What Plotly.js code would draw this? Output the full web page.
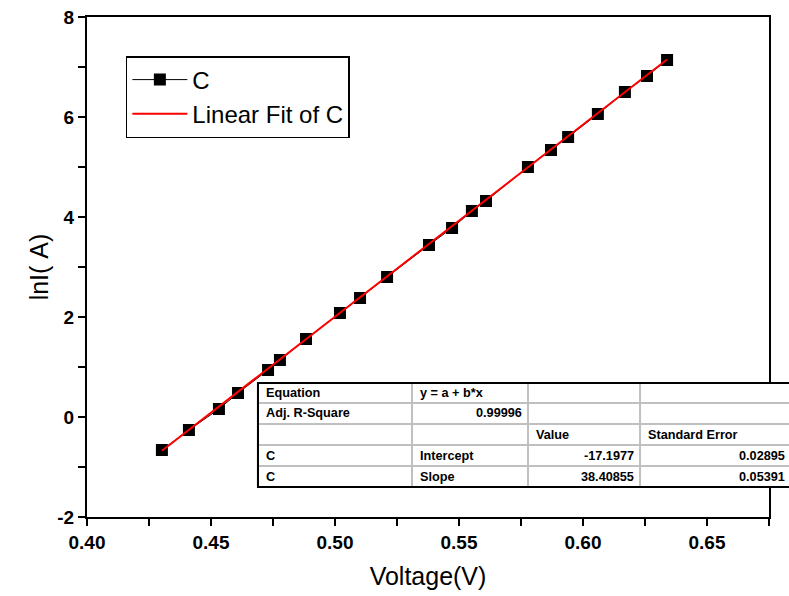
<!DOCTYPE html>
<html>
<head>
<meta charset="utf-8">
<script src="https://cdn.plot.ly/plotly-3.0.1.min.js"></script>
<style>html,body{margin:0;padding:0;background:#fff;}#chart{width:789px;height:596px;}</style>
</head>
<body>
<div id="chart"></div>
<script>
// Data
const voltage = [0.4302,0.4411,0.4532,0.4609,0.4730,0.4778,0.4883,0.5020,0.5101,0.5210,0.5379,0.5472,0.5552,0.5609,0.5778,0.5871,0.5940,0.6060,0.6169,0.6258,0.6339];
const lnI     = [-0.66,-0.26,0.16,0.48,0.94,1.14,1.56,2.08,2.38,2.80,3.44,3.78,4.12,4.32,5.00,5.34,5.60,6.06,6.50,6.82,7.14];
const fitX = [0.4302, 0.6339];
const fitY = [-0.675, 7.149];

// Tick labels
const xTickVals = [0.40, 0.45, 0.50, 0.55, 0.60, 0.65];
const xTickText = ["0.40","0.45","0.50","0.55","0.60","0.65"];
const yTickVals = [-2, 0, 2, 4, 6, 8];
const yTickText = ["-2","0","2","4","6","8"];

// Fit result table (text)
const tableCol1 = ["Equation","Adj. R-Square","","C","C"];
const tableCol2 = ["y = a + b*x","0.99996","","Intercept","Slope"];
const tableCol3 = ["","","Value","-17.1977","38.40855"];
const tableCol4 = ["","","Standard Error","0.02895","0.05391"];

const FONT = "Liberation Sans, Arial, sans-serif";

const traces = [
  {x: voltage, y: lnI, name: "C", type: "scatter", mode: "lines+markers",
   line: {color: "#000", width: 1}, marker: {symbol: "square", size: 12, color: "#000"}},
  {x: fitX, y: fitY, name: "Linear Fit of C", type: "scatter", mode: "lines",
   line: {color: "#ff0000", width: 2}}
];

// table geometry (paper coords)
const colEdges = [0.2507, 0.4765, 0.6466, 0.8109, 1.04];
const rowEdges = [0.268, 0.228, 0.186, 0.144, 0.102, 0.060];
const shapes = [];
const annotations = [];
shapes.push({type:"rect", xref:"paper", yref:"paper", x0:colEdges[0], x1:colEdges[4], y0:rowEdges[5], y1:rowEdges[0],
  fillcolor:"#fff", line:{color:"#000", width:2}, layer:"above"});
for (let i = 1; i < rowEdges.length - 1; i++) {
  shapes.push({type:"line", xref:"paper", yref:"paper", x0:colEdges[0], x1:colEdges[4], y0:rowEdges[i], y1:rowEdges[i],
    line:{color:"#c0c0c0", width:2}, layer:"above"});
}
for (let j = 1; j < colEdges.length - 1; j++) {
  shapes.push({type:"line", xref:"paper", yref:"paper", x0:colEdges[j], x1:colEdges[j], y0:rowEdges[5], y1:rowEdges[0],
    line:{color:"#c0c0c0", width:2}, layer:"above"});
}
shapes.push({type:"rect", xref:"paper", yref:"paper", x0:colEdges[0], x1:colEdges[4], y0:rowEdges[5], y1:rowEdges[0],
  fillcolor:"rgba(0,0,0,0)", line:{color:"#000", width:2}, layer:"above"});

const cols = [tableCol1, tableCol2, tableCol3, tableCol4];
const rightAligned = {"0.99996":1,"-17.1977":1,"38.40855":1,"0.02895":1,"0.05391":1};
cols.forEach((col, j) => {
  col.forEach((txt, i) => {
    if (!txt) return;
    const yc = (rowEdges[i] + rowEdges[i+1]) / 2;
    const right = rightAligned[txt];
    let xpos = right ? colEdges[j+1] - 0.006 : colEdges[j] + 0.009;
    if (j === 3 && right) xpos = 1.0293 - 0.003;
    annotations.push({xref:"paper", yref:"paper", x: xpos, y: yc, text: txt, showarrow:false,
      xanchor: right ? "right" : "left", yanchor:"middle",
      font:{family: FONT, size: 12.7, color:"#000", weight: "bold"}});
  });
});

const layout = {
  width: 789, height: 596,
  margin: {l: 87, r: 20, t: 17, b: 79},
  paper_bgcolor: "#fff", plot_bgcolor: "#fff",
  showlegend: true,
  legend: {x: 0.057, y: 0.922, xanchor: "left", yanchor: "top",
    bordercolor: "#000", borderwidth: 1.5, bgcolor: "#fff",
    font: {family: FONT, size: 24, color: "#000"}, itemwidth: 55,
    tracegroupgap: 0},
  xaxis: {range: [0.40, 0.675], tickmode: "array", tickvals: xTickVals, ticktext: xTickText,
    ticks: "outside", ticklen: 7, tickwidth: 2, tickcolor: "#000",
    minor: {dtick: 0.025, tick0: 0.40, ticks: "outside", ticklen: 7, tickwidth: 2, tickcolor: "#000"},
    showline: true, linecolor: "#000", linewidth: 2, mirror: true,
    showgrid: false, zeroline: false,
    tickfont: {family: FONT, size: 19, color: "#000", weight: "bold"},
    title: {text: "Voltage(V)", font: {family: FONT, size: 25, color: "#000"}, standoff: 16}},
  yaxis: {range: [-2, 8], tickmode: "array", tickvals: yTickVals, ticktext: yTickText,
    ticks: "outside", ticklen: 7, tickwidth: 2, tickcolor: "#000",
    minor: {dtick: 1, tick0: -2, ticks: "outside", ticklen: 7, tickwidth: 2, tickcolor: "#000"},
    showline: true, linecolor: "#000", linewidth: 2, mirror: true,
    showgrid: false, zeroline: false,
    tickfont: {family: FONT, size: 19, color: "#000", weight: "bold"},
    title: {text: "lnI(\u00a0A)", font: {family: FONT, size: 25, color: "#000"}, standoff: 2}},
  shapes: shapes,
  annotations: annotations
};

Plotly.newPlot("chart", traces, layout, {displayModeBar: false, staticPlot: true});
</script>
</body>
</html>
